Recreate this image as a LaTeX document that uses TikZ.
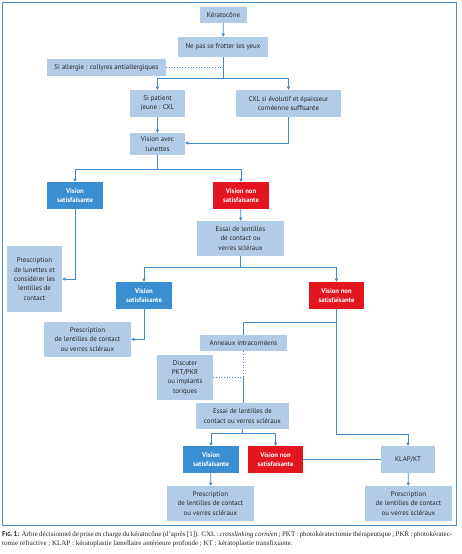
\documentclass[tikz,border=0pt]{standalone}
\usepackage{fontspec}
\setmainfont{Liberation Serif}
\newfontfamily\boxfont{PT Sans}
\usetikzlibrary{arrows.meta,calc}
\definecolor{lightb}{HTML}{B2CCE8}
\definecolor{darkb}{HTML}{3A8FD2}
\definecolor{redb}{HTML}{E3161F}
\definecolor{linec}{HTML}{4189C7}
\definecolor{framec}{HTML}{4B8FC9}
\definecolor{txt}{HTML}{262626}
\tikzset{
  bx/.style={fill=lightb, text=txt, inner sep=0pt, align=center,
    font=\boxfont\fontsize{6.9}{9.3}\selectfont},
  dk/.style={bx, fill=darkb, text=white, font=\boxfont\bfseries\fontsize{6.7}{9.3}\selectfont},
  rd/.style={dk, fill=redb},
  sz/.style 2 args={minimum width=#1pt, minimum height=#2pt},
  ln/.style={draw=linec, line width=0.7pt},
  ar/.style={ln, -{Triangle[length=3.2pt,width=3.2pt]}},
  dt/.style={draw=linec, line width=0.7pt, dotted}
}
\begin{document}
\begin{tikzpicture}[x=1pt,y=-1pt]
\useasboundingbox (0,0) rectangle (461,554);
\draw[framec, line width=0.8pt] (2,2) rectangle (456,525);

\node[bx, sz={47}{16}] (k) at (223.5,15) {Kératocône};
\node[bx, sz={90}{20}] (np) at (223,47) {Ne pas se frotter les yeux};
\node[bx, sz={119}{17}] (al) at (106.5,67.5) {Si allergie : collyres antiallergiques};
\node[bx, sz={55}{27}] (sp) at (157.5,103.5) {Si patient\\jeune : CXL};
\node[bx, sz={105}{27}] (cxl) at (288.5,103.5) {CXL si évolutif et épaisseur\\cornéenne suffisante};
\node[bx, sz={55}{22}] (vl) at (157.5,144) {Vision avec\\lunettes};
\node[dk, sz={56}{27}] (vs1) at (75,195.5) {Vision\\satisfaisante};
\node[rd, sz={56}{27}] (vn1) at (241,195.5) {Vision non\\satisfaisante};
\node[bx, sz={87}{35}] (e1) at (240.5,238.5) {Essai de lentilles\\de contact ou\\verres scléraux};
\node[bx, sz={55}{66}] (pl) at (34.5,279) {Prescription\\de lunettes et\\considérer les\\lentilles de\\contact};
\node[dk, sz={56}{27}] (vs2) at (144,295.5) {Vision\\satisfaisante};
\node[rd, sz={55}{27}] (vn2) at (336.5,295.5) {Vision non\\satisfaisante};
\node[bx, sz={87}{35}] (p1) at (87.5,339.5) {Prescription\\de lentilles de contact\\ou verres scléraux};
\node[bx, sz={87}{16}] (an) at (243.5,343) {Anneaux intracornéens};
\node[bx, sz={56}{45}] (di) at (185,377.5) {Discuter\\PKT/PKR\\ou implants\\toriques};
\node[bx, sz={93}{26}] (e2) at (242.5,416) {Essai de lentilles de\\contact ou verres scléraux};
\node[dk, sz={56}{27}] (vs3) at (211,459.5) {Vision\\satisfaisante};
\node[rd, sz={55}{27}] (vn3) at (275.5,459.5) {Vision non\\satisfaisante};
\node[bx, sz={54}{27}] (kl) at (408,459.5) {KLAP/KT};
\node[bx, sz={87}{35}] (p2) at (210.5,503.5) {Prescription\\de lentilles de contact\\ou verres scléraux};
\node[bx, sz={87}{35}] (p3) at (408.5,503.5) {Prescription\\de lentilles de contact\\ou verres scléraux};

% junctions
\coordinate (j1) at (223,78);
\coordinate (j2) at (157.5,169);
\coordinate (j3) at (240.5,267);
\coordinate (j4) at (336.5,322);
\coordinate (j5) at (408,434);
\coordinate (j7) at (242.5,433);
\coordinate (j6) at (an.south |- di.east);

\draw[ar] (k) -- (np);
\draw[ln] (np.south) -- (j1);
\draw[ar] (j1) -| (sp.north);
\draw[ar] (j1) -| (cxl.north);
\draw[dt] (al.east) -- (al.east -| j1);
\draw[ar] (sp) -- (vl);
\draw[ar] (cxl.south) |- ($(vl.east)+(0,-1)$);
\draw[ln] (vl.south) -- (j2);
\draw[ar] (j2) -| (vs1.north);
\draw[ar] (j2) -| (vn1.north);
\draw[ar] (vn1) -- (e1);
\draw[ar] (vs1.south) |- (pl.east);
\draw[ln] (e1.south) -- (j3);
\draw[ar] (j3) -| (vs2.north);
\draw[ar] (j3) -| (vn2.north);
\draw[ar] (vs2.south) |- (p1.east);
\draw[ln] (vn2.south) -- (j4) -- (j5 -| vn2.south) -- (j5);
\draw[ar] (j5) -- (kl.north);
\draw[ln] (j4) -| (an.north);
\draw[dt] (an.south) -- (j6);
\draw[dt] (di.east) -- (j6);
\draw[ln] (j6) -- (an.south |- e2.north);
\draw[ln] (e2.south) -- (j7);
\draw[ar] (j7) -| (vs3.north);
\draw[ar] (j7) -| (vn3.north);
\draw[ln] (vn3.east) -- (kl.west);
\draw[ar] (kl) -- (p3);
\draw[ar] (vs3) -- (p2);

\node[anchor=north west, inner sep=0pt, align=left, font=\fontsize{7}{8.6}\selectfont, text=txt] (cap) at (2,531.5)
{\makebox[450pt][s]{{\boxfont\bfseries F{\fontsize{5.6}{6}\selectfont IG}. 1:} Arbre décisionnel de prise en charge du kératocône (d'après [1]). CXL : \textit{crosslinking cornéen} ; PKT : photokératectomie thérapeutique ; PKR : photokératec-}\\
tomie réfractive ; KLAP : kératoplastie lamellaire antérieure profonde ; KT : kératoplastie transfixiante.};
\end{tikzpicture}
\end{document}
